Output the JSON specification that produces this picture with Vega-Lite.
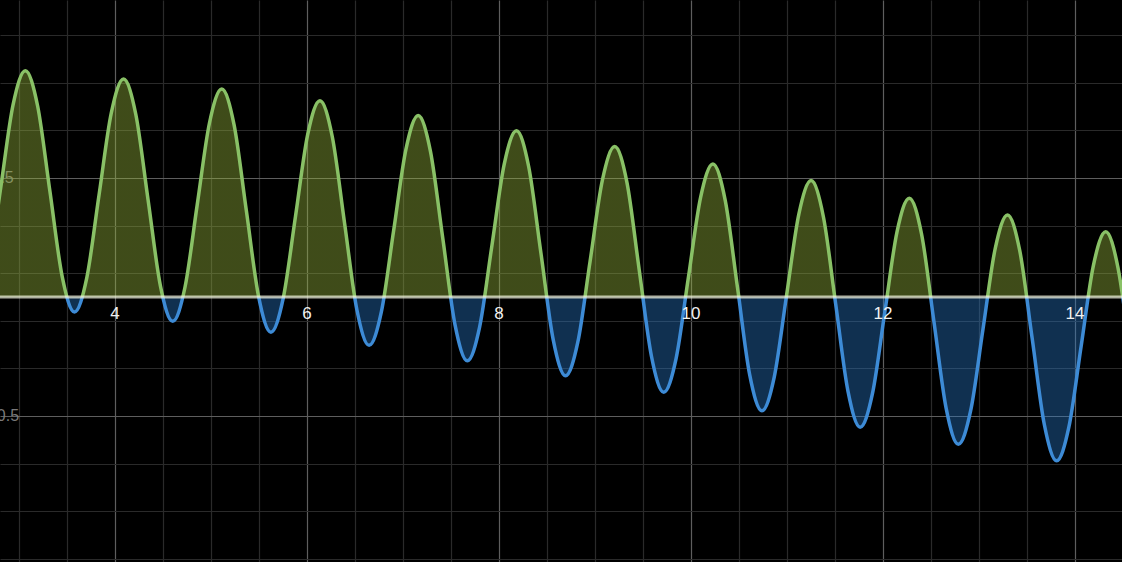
{
  "$schema": "https://vega.github.io/schema/vega-lite/v6.json",
  "width": 1122,
  "height": 562,
  "autosize": {"type": "none"},
  "padding": 0,
  "background": "#000000",
  "config": {"view": {"stroke": null}},
  "datasets": {
    "curve": [
      {"x": 2.554, "y": -0.030}, {"x": 2.682, "y": 0.1137}, {"x": 2.810, "y": 0.4605}, {"x": 2.938, "y": 0.8073},
      {"x": 3.066, "y": 0.951}, {"x": 3.194, "y": 0.8025}, {"x": 3.322, "y": 0.444}, {"x": 3.450, "y": 0.0855},
      {"x": 3.578, "y": -0.063}, {"x": 3.706, "y": 0.0804}, {"x": 3.833, "y": 0.4265}, {"x": 3.961, "y": 0.7726},
      {"x": 4.089, "y": 0.916}, {"x": 4.217, "y": 0.7669}, {"x": 4.345, "y": 0.407}, {"x": 4.473, "y": 0.0471},
      {"x": 4.601, "y": -0.102}, {"x": 4.729, "y": 0.0409}, {"x": 4.856, "y": 0.386}, {"x": 4.984, "y": 0.7311},
      {"x": 5.112, "y": 0.874}, {"x": 5.240, "y": 0.7243}, {"x": 5.368, "y": 0.363}, {"x": 5.496, "y": 0.0017},
      {"x": 5.624, "y": -0.148}, {"x": 5.752, "y": -0.0055}, {"x": 5.880, "y": 0.3385}, {"x": 6.007, "y": 0.6825},
      {"x": 6.135, "y": 0.825}, {"x": 6.263, "y": 0.6744}, {"x": 6.391, "y": 0.311}, {"x": 6.519, "y": -0.0524},
      {"x": 6.647, "y": -0.203}, {"x": 6.775, "y": -0.0615}, {"x": 6.903, "y": 0.280}, {"x": 7.031, "y": 0.6215},
      {"x": 7.158, "y": 0.763}, {"x": 7.286, "y": 0.612}, {"x": 7.414, "y": 0.2475}, {"x": 7.542, "y": -0.117},
      {"x": 7.670, "y": -0.268}, {"x": 7.798, "y": -0.1264}, {"x": 7.926, "y": 0.2155}, {"x": 8.054, "y": 0.5574},
      {"x": 8.182, "y": 0.699}, {"x": 8.309, "y": 0.5482}, {"x": 8.437, "y": 0.184}, {"x": 8.565, "y": -0.1802},
      {"x": 8.693, "y": -0.331}, {"x": 8.821, "y": -0.19}, {"x": 8.949, "y": 0.1505}, {"x": 9.077, "y": 0.491},
      {"x": 9.205, "y": 0.632}, {"x": 9.333, "y": 0.4809}, {"x": 9.460, "y": 0.116}, {"x": 9.588, "y": -0.2489},
      {"x": 9.716, "y": -0.400}, {"x": 9.844, "y": -0.2596}, {"x": 9.972, "y": 0.0795}, {"x": 10.100, "y": 0.4186},
      {"x": 10.228, "y": 0.559}, {"x": 10.356, "y": 0.4071}, {"x": 10.484, "y": 0.0405}, {"x": 10.611, "y": -0.3261},
      {"x": 10.739, "y": -0.478}, {"x": 10.867, "y": -0.3364}, {"x": 10.995, "y": 0.0055}, {"x": 11.123, "y": 0.3474},
      {"x": 11.251, "y": 0.489}, {"x": 11.379, "y": 0.3373}, {"x": 11.507, "y": -0.029}, {"x": 11.635, "y": -0.3953},
      {"x": 11.762, "y": -0.547}, {"x": 11.890, "y": -0.4061}, {"x": 12.018, "y": -0.066}, {"x": 12.146, "y": 0.2741},
      {"x": 12.274, "y": 0.415}, {"x": 12.402, "y": 0.2636}, {"x": 12.530, "y": -0.102}, {"x": 12.658, "y": -0.4676},
      {"x": 12.785, "y": -0.619}, {"x": 12.913, "y": -0.4778}, {"x": 13.041, "y": -0.137}, {"x": 13.169, "y": 0.2038},
      {"x": 13.297, "y": 0.345}, {"x": 13.425, "y": 0.1937}, {"x": 13.553, "y": -0.1715}, {"x": 13.681, "y": -0.5367},
      {"x": 13.809, "y": -0.688}, {"x": 13.936, "y": -0.5471}, {"x": 14.064, "y": -0.207}, {"x": 14.192, "y": 0.1331},
      {"x": 14.320, "y": 0.274}, {"x": 14.448, "y": 0.1227}, {"x": 14.576, "y": -0.2425}
    ]
  },
  "layer": [
    {
      "data": {"name": "curve"},
      "mark": {
        "type": "area",
        "interpolate": "monotone",
        "clip": true,
        "fill": {
          "gradient": "linear", "x1": 0, "y1": 0, "x2": 0, "y2": 1,
          "stops": [
            {"offset": 0, "color": "rgba(150,180,60,0.42)"},
            {"offset": 0.58023, "color": "rgba(150,180,60,0.42)"},
            {"offset": 0.58023, "color": "rgba(40,120,200,0.4)"},
            {"offset": 1, "color": "rgba(40,120,200,0.4)"}
          ]
        }
      },
      "encoding": {
        "x": {
          "field": "x", "type": "quantitative",
          "scale": {"domain": [2.80208, 14.48958], "nice": false, "zero": false},
          "axis": {
            "title": null,
            "values": [3, 3.5, 4, 4.5, 5, 5.5, 6, 6.5, 7, 7.5, 8, 8.5, 9, 9.5, 10, 10.5, 11, 11.5, 12, 12.5, 13, 13.5, 14, 14.5],
            "labels": false, "ticks": false, "tickSize": 0, "domain": false, "grid": true,
            "gridColor": {"condition": {"test": "datum.value % 2 == 0", "value": "#5e5e5e"}, "value": "#2a2a2a"},
            "gridWidth": 1.2
          }
        },
        "y": {
          "field": "y", "type": "quantitative",
          "scale": {"domain": [-1.11345, 1.2479], "nice": false, "zero": false},
          "axis": {
            "title": null,
            "values": [-1.1, -1, -0.9, -0.8, -0.7, -0.6, -0.5, -0.4, -0.3, -0.2, -0.1, 0, 0.1, 0.2, 0.3, 0.4, 0.5, 0.6, 0.7, 0.8, 0.9, 1, 1.1, 1.2],
            "ticks": false, "tickSize": 0, "domain": false, "grid": true,
            "gridColor": {"condition": {"test": "abs(round(datum.value*10)) % 5 == 0", "value": "#5e5e5e"}, "value": "#2a2a2a"},
            "gridWidth": 1.2,
            "labelExpr": "datum.value == 0.5 ? '0.5' : (datum.value == -0.5 ? '-0.5' : '')",
            "labelAlign": "left", "labelBaseline": "middle", "labelPadding": 9,
            "labelOverlap": false, "labelFlush": false,
            "labelColor": "#7a7a7a", "labelFontSize": 16, "labelFont": "Liberation Sans"
          }
        },
        "y2": {"datum": 0}
      }
    },
    {
      "data": {"name": "curve"},
      "mark": {
        "type": "line",
        "interpolate": "monotone",
        "clip": true,
        "strokeWidth": 3.5,
        "stroke": {
          "gradient": "linear", "x1": 0, "y1": 0, "x2": 0, "y2": 1,
          "stops": [
            {"offset": 0, "color": "#89c166"},
            {"offset": 0.58023, "color": "#89c166"},
            {"offset": 0.58023, "color": "#3d8bd6"},
            {"offset": 1, "color": "#3d8bd6"}
          ]
        }
      },
      "encoding": {
        "x": {"field": "x", "type": "quantitative", "title": null},
        "y": {"field": "y", "type": "quantitative", "title": null}
      }
    },
    {
      "data": {"values": [{}]},
      "mark": {"type": "rule", "color": "#f2f5e0", "opacity": 0.72, "strokeWidth": 2.8},
      "encoding": {"y": {"datum": 0}}
    },
    {
      "data": {"values": [{"v": 4, "t": "4"}, {"v": 6, "t": "6"}, {"v": 8, "t": "8"}, {"v": 10, "t": "10"}, {"v": 12, "t": "12"}, {"v": 14, "t": "14"}]},
      "mark": {"type": "text", "dy": 17, "fontSize": 17, "font": "Liberation Sans", "color": "#f2f2f2", "align": "center", "baseline": "middle"},
      "encoding": {
        "x": {"field": "v", "type": "quantitative", "title": null},
        "y": {"datum": 0},
        "text": {"field": "t"}
      }
    }
  ]
}
